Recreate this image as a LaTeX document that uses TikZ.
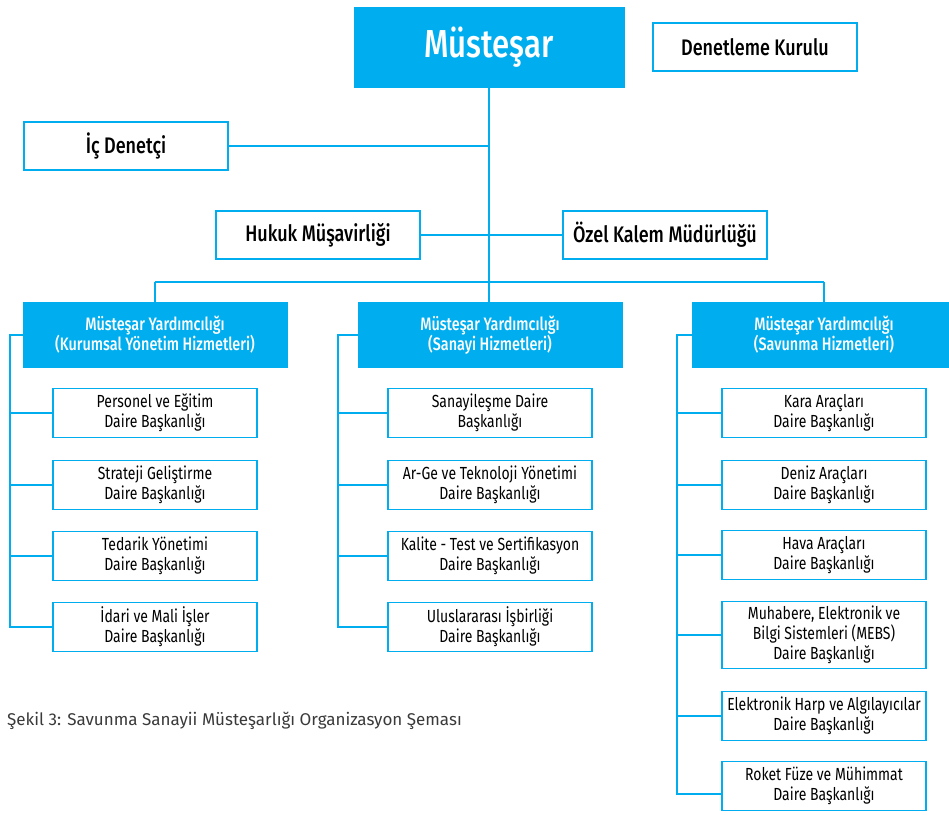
\documentclass[tikz,border=0pt]{standalone}
\usepackage{fontspec}
\setmainfont{Fira Sans}[FakeStretch=0.8, BoldFont={* Medium}]
\newfontfamily\capfont{Fira Sans}
\definecolor{ssmblue}{HTML}{00AEEF}
\definecolor{capgray}{HTML}{3A3A3A}
\tikzset{
    link/.style={draw=ssmblue, line width=1.6pt},
    topbox/.style={draw=ssmblue, line width=1.6pt, fill=white, minimum width=204pt, minimum height=48pt, font=\fontsize{22.5}{26}\selectfont\bfseries, inner sep=0pt},
    yardbox/.style={draw=ssmblue, fill=ssmblue, text=white, minimum width=264pt, minimum height=65pt, align=center, font=\fontsize{18}{20}\selectfont\bfseries, inner sep=0pt},
    unitbox/.style={draw=ssmblue, line width=1.6pt, fill=white, minimum width=204pt, minimum height=49pt, align=center, font=\fontsize{17.5}{20}\selectfont, inner sep=0pt}
}

\begin{document}
\begin{tikzpicture}[x=1pt, y=-1pt]
    \useasboundingbox [fill=white] (0,0) rectangle (949,814);

    \node [draw=ssmblue, fill=ssmblue, text=white, minimum width=270pt, minimum height=80pt, font=\fontsize{39}{42}\selectfont\bfseries] (must) at (489,47) {Müsteşar};
    \node [topbox] (denet) at (755,47) {Denetleme Kurulu};
    \node [topbox] (icden) at (126,146) {İç Denetçi};
    \node [topbox] (hukuk) at (318,235) {Hukuk Müşavirliği};
    \node [topbox] (ozel) at (665,235) {Özel Kalem Müdürlüğü};

    \coordinate (bus) at (489,282);
    \coordinate (busL) at (155,282);
    \coordinate (busR) at (824,282);

    \node [yardbox] (kurum) at (155,335) {Müsteşar Yardımcılığı\\(Kurumsal Yönetim Hizmetleri)};
    \node [yardbox] (sanayi) at (490,335) {Müsteşar Yardımcılığı\\(Sanayi Hizmetleri)};
    \node [yardbox] (savun) at (824,335) {Müsteşar Yardımcılığı\\(Savunma Hizmetleri)};

    \draw [link] (must.south) -- (bus);
    \draw [link] (icden.east) -- (icden.east -| bus);
    \draw [link] (hukuk.east) -- (ozel.west);
    \draw [link] (busL) -- (busR);
    \draw [link] (busL) -- (kurum.north);
    \draw [link] (bus) -- (bus |- sanayi.north);
    \draw [link] (busR) -- (savun.north);

    % Kurumsal Yonetim
    \node [unitbox] (k1) at (155,413) {Personel ve Eğitim\\Daire Başkanlığı};
    \node [unitbox] (k2) at (155,485) {Strateji Geliştirme\\Daire Başkanlığı};
    \node [unitbox] (k3) at (155,556) {Tedarik Yönetimi\\Daire Başkanlığı};
    \node [unitbox] (k4) at (155,627) {İdari ve Mali İşler\\Daire Başkanlığı};
    \draw [link] (kurum.west) -- ++(-13,0) |- (k1.west);
    \draw [link] (kurum.west) -- ++(-13,0) |- (k2.west);
    \draw [link] (kurum.west) -- ++(-13,0) |- (k3.west);
    \draw [link] (kurum.west) -- ++(-13,0) |- (k4.west);

    % Sanayi
    \node [unitbox] (s1) at (490,413) {Sanayileşme Daire\\Başkanlığı};
    \node [unitbox] (s2) at (490,485) {Ar-Ge ve Teknoloji Yönetimi\\Daire Başkanlığı};
    \node [unitbox] (s3) at (490,556) {Kalite - Test ve Sertifikasyon\\Daire Başkanlığı};
    \node [unitbox] (s4) at (490,627) {Uluslararası İşbirliği\\Daire Başkanlığı};
    \draw [link] (sanayi.west) -- ++(-20,0) |- (s1.west);
    \draw [link] (sanayi.west) -- ++(-20,0) |- (s2.west);
    \draw [link] (sanayi.west) -- ++(-20,0) |- (s3.west);
    \draw [link] (sanayi.west) -- ++(-20,0) |- (s4.west);

    % Savunma
    \node [unitbox] (v1) at (824,413) {Kara Araçları\\Daire Başkanlığı};
    \node [unitbox] (v2) at (824,485) {Deniz Araçları\\Daire Başkanlığı};
    \node [unitbox] (v3) at (824,555) {Hava Araçları\\Daire Başkanlığı};
    \node [unitbox, minimum height=67pt] (v4) at (824,635) {Muhabere, Elektronik ve\\Bilgi Sistemleri (MEBS)\\Daire Başkanlığı};
    \node [unitbox] (v5) at (824,716) {Elektronik Harp ve Algılayıcılar\\Daire Başkanlığı};
    \node [unitbox] (v6) at (824,786) {Roket Füze ve Mühimmat\\Daire Başkanlığı};
    \draw [link] (savun.west) -- ++(-15,0) |- (v1.west);
    \draw [link] (savun.west) -- ++(-15,0) |- (v2.west);
    \draw [link] (savun.west) -- ++(-15,0) |- (v3.west);
    \draw [link] (savun.west) -- ++(-15,0) |- (v4.west);
    \draw [link] (savun.west) -- ++(-15,0) |- (v5.west);
    \draw [link] (savun.west) -- ++(-15,0) |- ([yshift=-8pt]v6.west);

    \node [anchor=west, text=capgray, font=\capfont\fontsize{17}{20}\selectfont, inner sep=0pt] (cap) at (7,721) {Şekil 3: Savunma Sanayii Müsteşarlığı Organizasyon Şeması};
\end{tikzpicture}
\end{document}
